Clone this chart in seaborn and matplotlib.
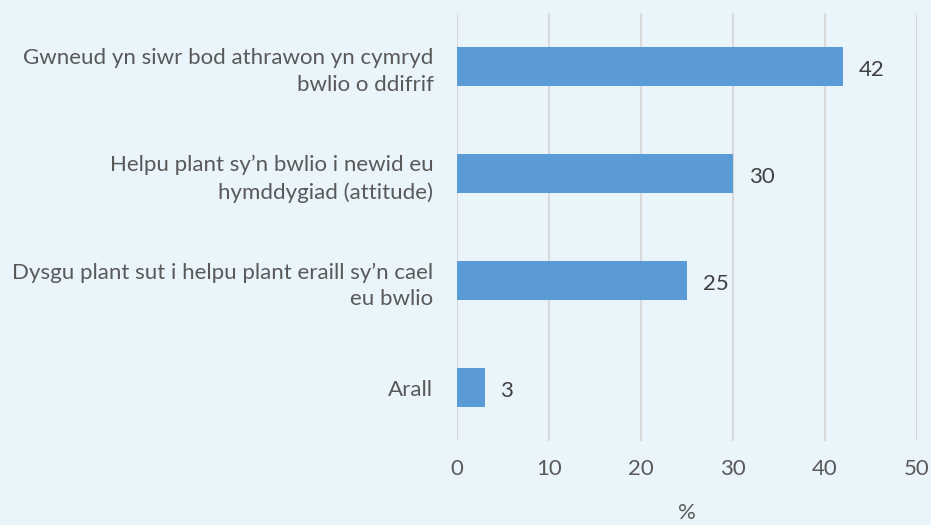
import matplotlib
matplotlib.use("Agg")
import matplotlib.pyplot as plt
import seaborn as sns
import pandas as pd

categories = [
    "Gwneud yn siwr bod athrawon yn cymryd\nbwlio o ddifrif",
    "Helpu plant sy\u2019n bwlio i newid eu\nhymddygiad (attitude)",
    "Dysgu plant sut i helpu plant eraill sy\u2019n cael\neu bwlio",
    "Arall",
]
values = [42, 30, 25, 3]
xticks = [0, 10, 20, 30, 40, 50]

bg = "#EAF4FB"
bar_color = "#5B9BD5"
text_color = "#595959"

sns.set_theme(style="white")
plt.rcParams["font.family"] = ["Lato", "DejaVu Sans"]

df = pd.DataFrame({"cat": categories, "val": values})

fig = plt.figure(figsize=(9.31, 5.25), dpi=100, facecolor=bg)
ax = fig.add_axes([457/931, 1 - 441/525, (917-457)/931, (441-13)/525])
ax.set_facecolor(bg)

sns.barplot(data=df, x="val", y="cat", color=bar_color, width=0.36,
            saturation=1, ax=ax, orient="h", linewidth=0)

ax.set_xlim(0, 50)
ax.set_xticks(xticks)
ax.xaxis.grid(True, color="#D9D9D9", linewidth=1.5)
ax.set_axisbelow(True)
for s in ax.spines.values():
    s.set_visible(False)

fs = 16
ax.tick_params(axis="both", length=0, labelsize=fs, labelcolor=text_color)
ax.tick_params(axis="y", pad=17)
ax.tick_params(axis="x", pad=13)
for lbl in ax.get_yticklabels():
    lbl.set_multialignment("right")
    lbl.set_linespacing(1.4)

ax.set_ylabel("")
ax.set_xlabel("%", fontsize=fs, color=text_color, labelpad=17)

for i, v in enumerate(values):
    ax.text(v + 1.7, i + 0.03, str(v), va="center", ha="left", fontsize=fs, color="#404040")

fig.savefig("out.png", dpi=100, facecolor=bg)
